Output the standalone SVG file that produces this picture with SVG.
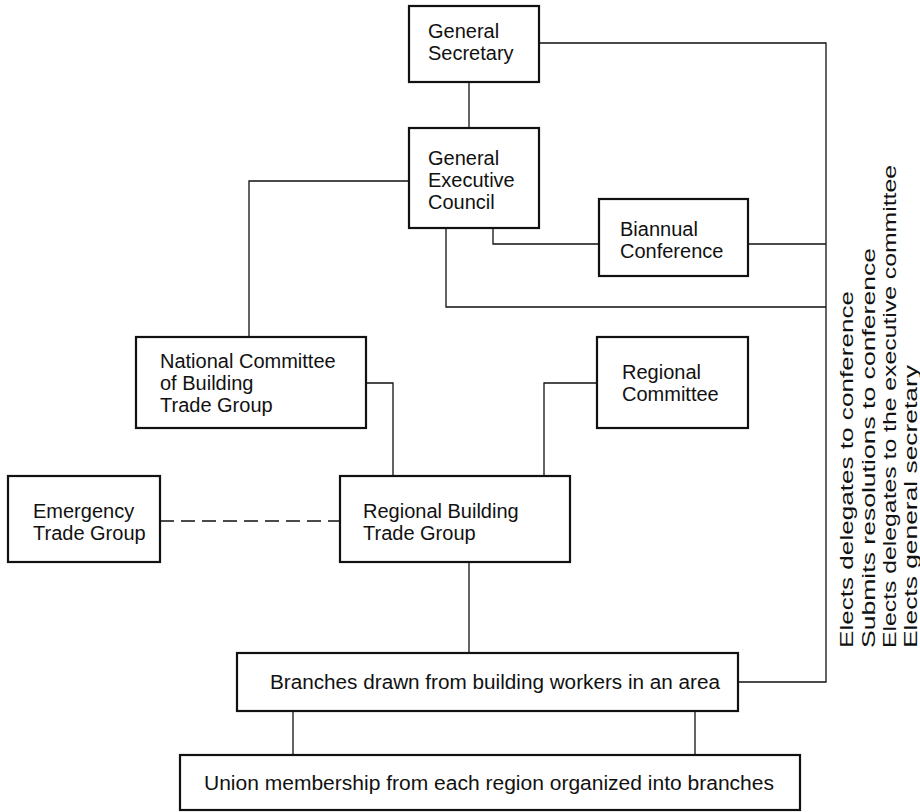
<svg xmlns="http://www.w3.org/2000/svg" width="920" height="812" viewBox="0 0 920 812">
  <style>
    .box { fill: #fff; stroke: #111; stroke-width: 2.2; }
    .link { fill: none; stroke: #111; stroke-width: 1.3; }
    .dash { stroke-dasharray: 14 7; }
    text { font-family: "Liberation Sans", Arial, sans-serif; font-size: 20px; fill: #111; }
    .note { font-size: 18px; }
  </style>
  <rect width="920" height="812" fill="#fff"/>

  <!-- connectors -->
  <g id="connectors">
    <!-- General Secretary to General Executive Council -->
    <path class="link" d="M469 82 V128"/>
    <!-- General Secretary out to the membership spine -->
    <path class="link" d="M539 43 H826 V682 H738"/>
    <!-- Executive Council to National Committee -->
    <path class="link" d="M409 181 H249 V337"/>
    <!-- Executive Council to Biannual Conference -->
    <path class="link" d="M493 228 V244 H599"/>
    <path class="link" d="M748 244 H826"/>
    <!-- Executive Council to the spine (delegates) -->
    <path class="link" d="M446 228 V307 H826"/>
    <!-- National Committee to Regional Building Trade Group -->
    <path class="link" d="M366 383 H393 V476"/>
    <!-- Regional Committee to Regional Building Trade Group -->
    <path class="link" d="M597 383 H544 V476"/>
    <!-- Emergency Trade Group (dashed) -->
    <path class="link dash" d="M160 521 H340"/>
    <!-- Regional Building Trade Group to Branches -->
    <path class="link" d="M469 562 V653"/>
    <!-- Branches to Union membership -->
    <path class="link" d="M293 711 V755"/>
    <path class="link" d="M695 711 V755"/>
  </g>

  <g id="general-secretary">
    <rect class="box" x="409" y="6" width="130" height="76"/>
    <text x="428" y="38">General</text>
    <text x="428" y="60">Secretary</text>
  </g>

  <g id="general-executive-council">
    <rect class="box" x="409" y="128" width="130" height="100"/>
    <text x="428" y="165">General</text>
    <text x="428" y="187">Executive</text>
    <text x="428" y="209">Council</text>
  </g>

  <g id="biannual-conference">
    <rect class="box" x="599" y="199" width="149" height="77"/>
    <text x="620" y="236">Biannual</text>
    <text x="620" y="258">Conference</text>
  </g>

  <g id="national-committee">
    <rect class="box" x="136" y="337" width="230" height="91"/>
    <text x="160" y="368">National Committee</text>
    <text x="160" y="390">of Building</text>
    <text x="160" y="412">Trade Group</text>
  </g>

  <g id="regional-committee">
    <rect class="box" x="597" y="337" width="151" height="91"/>
    <text x="622" y="379">Regional</text>
    <text x="622" y="401">Committee</text>
  </g>

  <g id="emergency-trade-group">
    <rect class="box" x="8" y="476" width="152" height="86"/>
    <text x="33" y="518">Emergency</text>
    <text x="33" y="540">Trade Group</text>
  </g>

  <g id="regional-building-trade-group">
    <rect class="box" x="340" y="476" width="230" height="86"/>
    <text x="363" y="518">Regional Building</text>
    <text x="363" y="540">Trade Group</text>
  </g>

  <g id="branches">
    <rect class="box" x="237" y="653" width="501" height="58"/>
    <text x="270" y="689" textLength="450" lengthAdjust="spacingAndGlyphs">Branches drawn from building workers in an area</text>
  </g>

  <g id="union-membership">
    <rect class="box" x="180" y="755" width="620" height="55"/>
    <text x="204" y="790" textLength="570" lengthAdjust="spacingAndGlyphs">Union membership from each region organized into branches</text>
  </g>

  <!-- functions of the branches, read upward along the spine -->
  <g id="branch-functions">
    <text class="note" transform="translate(853 648) rotate(-90)" textLength="357" lengthAdjust="spacingAndGlyphs">Elects delegates to conference</text>
    <text class="note" transform="translate(875 648) rotate(-90)" textLength="400" lengthAdjust="spacingAndGlyphs">Submits resolutions to conference</text>
    <text class="note" transform="translate(896 648) rotate(-90)" textLength="483" lengthAdjust="spacingAndGlyphs">Elects delegates to the executive committee</text>
    <text class="note" transform="translate(917 648) rotate(-90)" textLength="283" lengthAdjust="spacingAndGlyphs">Elects general secretary</text>
  </g>
</svg>
